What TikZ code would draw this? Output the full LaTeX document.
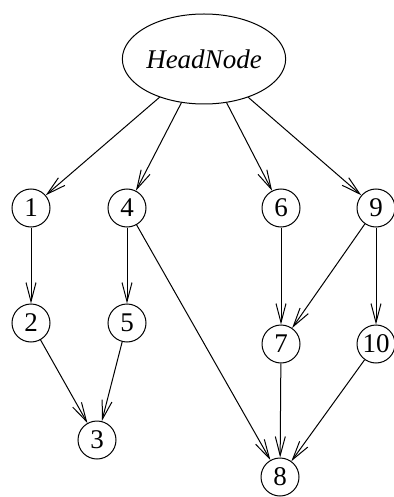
\documentclass[tikz,border=0pt]{standalone}
\usepackage{fontspec}
\setmainfont{Liberation Serif}
\usetikzlibrary{shapes.geometric,arrows.meta}
\begin{document}
\begin{tikzpicture}[x=0.5pt,y=-0.5pt,
  every node/.style={font=\fontsize{13.5}{16}\selectfont},
  numnode/.style={circle,draw,line width=0.5pt,minimum size=19pt,inner sep=0pt},
  headnode/.style={ellipse,draw,line width=0.5pt,minimum width=72pt,minimum height=45pt,inner sep=0pt,font=\fontsize{13.5}{16}\selectfont\itshape},
  edge/.style={draw,line width=0.5pt,-{Straight Barb[length=9.5pt,width=5pt,line width=0.5pt]}}]
\useasboundingbox (0,0) rectangle (393,497);
\node[headnode] (h) at (204,59) {HeadNode};
\node[numnode] (n1) at (31,208) {1};
\node[numnode] (n4) at (127,208) {4};
\node[numnode] (n6) at (281,208) {6};
\node[numnode] (n9) at (376,208) {9};
\node[numnode] (n2) at (31,323) {2};
\node[numnode] (n5) at (127,323) {5};
\node[numnode] (n7) at (281,344) {7};
\node[numnode] (n10) at (376,344) {10};
\node[numnode] (n3) at (97,440) {3};
\node[numnode] (n8) at (280,477) {8};
\draw[edge] (h) -- (n1);
\draw[edge] (h) -- (n4);
\draw[edge] (h) -- (n6);
\draw[edge] (h) -- (n9);
\draw[edge] (n1) -- (n2);
\draw[edge] (n4) -- (n5);
\draw[edge] (n4) -- (n8);
\draw[edge] (n6) -- (n7);
\draw[edge] (n9) -- (n7);
\draw[edge] (n9) -- (n10);
\draw[edge] (n2) -- (n3);
\draw[edge] (n5) -- (n3);
\draw[edge] (n7) -- (n8);
\draw[edge] (n10) -- (n8);
\end{tikzpicture}
\end{document}
